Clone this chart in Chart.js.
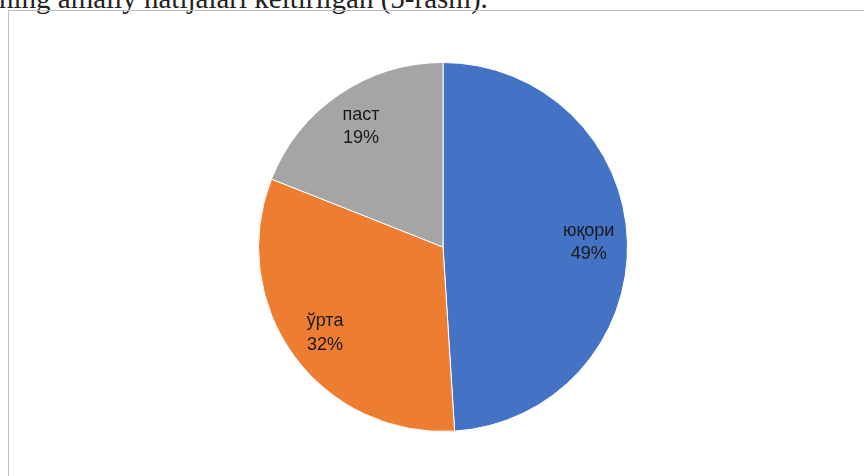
<!DOCTYPE html>
<html>
<head>
<meta charset="utf-8">
<script src="https://cdn.jsdelivr.net/npm/chart.js@4/dist/chart.umd.min.js"></script>
<style>
  html, body { margin: 0; padding: 0; background: #fff; overflow: hidden; }
  body { width: 864px; height: 476px; position: relative; }
  #toptext {
    position: absolute; left: -1px; top: -16px;
    font-family: "Liberation Serif", serif; font-size: 29px; line-height: 29px;
    color: #222; white-space: nowrap;
  }
  #box {
    position: absolute; left: 8px; top: 10px; width: 900px; height: 500px;
    border: 1.5px solid #bdbdbd; box-sizing: border-box;
  }
  #wrap { position: absolute; left: 9px; top: 11px; width: 855px; height: 465px; }
</style>
</head>
<body>
<div id="toptext">ning amaliy natijalari keltirilgan (5-rasm).</div>
<div id="box"></div>
<div id="wrap"><canvas id="pie"></canvas></div>
<script>
// Daten
const categories = ["юқори", "ўрта", "паст"];
const values = [49, 32, 19];
const colors = ["#4472C4", "#ED7D31", "#A5A5A5"];

// Beschriftung in den Segmenten (Name + Prozent)
const sliceLabels = {
  id: 'sliceLabels',
  afterDatasetsDraw(chart) {
    const ctx = chart.ctx;
    const meta = chart.getDatasetMeta(0);
    const total = values.reduce((a, b) => a + b, 0);
    ctx.save();
    ctx.font = '18px "Liberation Sans", sans-serif';
    ctx.fillStyle = '#1a1a1a';
    ctx.textAlign = 'center';
    ctx.textBaseline = 'middle';
    meta.data.forEach((arc, i) => {
      const p = arc.getProps(['x', 'y', 'startAngle', 'endAngle', 'outerRadius'], true);
      const mid = (p.startAngle + p.endAngle) / 2;
      const r = p.outerRadius * 0.79;
      const x = p.x + Math.cos(mid) * r;
      const y = p.y + Math.sin(mid) * r;
      const pct = Math.round(values[i] / total * 100) + '%';
      ctx.fillText(categories[i], x, y - 11.5);
      ctx.fillText(pct, x, y + 12);
    });
    ctx.restore();
  }
};

new Chart(document.getElementById('pie'), {
  type: 'pie',
  data: {
    labels: categories,
    datasets: [{
      data: values,
      backgroundColor: colors,
      borderColor: '#ffffff',
      borderWidth: 1
    }]
  },
  options: {
    responsive: true,
    maintainAspectRatio: false,
    animation: false,
    layout: { padding: { left: 249, right: 236, top: 51, bottom: 44 } },
    plugins: {
      legend: { display: false },
      tooltip: { enabled: false }
    }
  },
  plugins: [sliceLabels]
});
</script>
</body>
</html>
